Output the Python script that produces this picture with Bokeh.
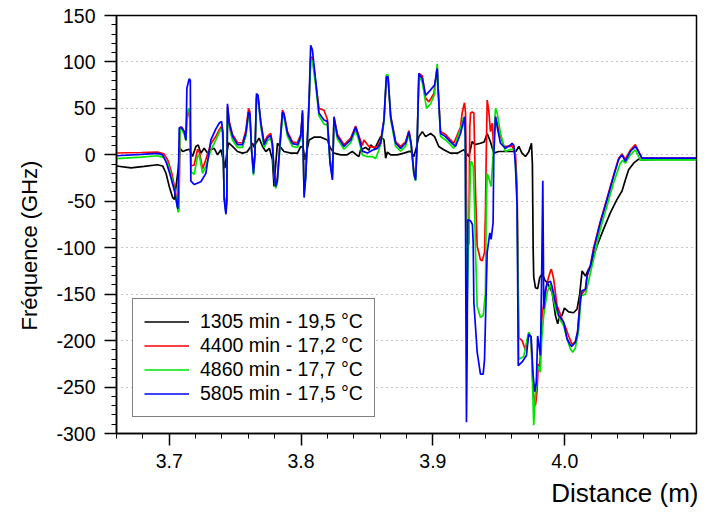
from bokeh.plotting import figure
from bokeh.models import Legend, LegendItem, Title, PrintfTickFormatter, SingleIntervalTicker, Range1d
from bokeh.embed import file_html
from bokeh.resources import INLINE

# ---------------- data (Distance in m, Frequency in GHz) ----------------
labels = ["1305 min - 19,5 °C", "4400 min - 17,2 °C", "4860 min - 17,7 °C", "5805 min - 17,5 °C"]
colors = ["#000000", "#ff0000", "#00e600", "#0000ff"]

x_1305 = [3.660, 3.671, 3.681, 3.691, 3.695, 3.6975, 3.7000, 3.7026, 3.7040, 3.7055, 3.7068, 3.7081,
          3.7102, 3.7127, 3.7152, 3.7177, 3.7202, 3.7220, 3.7240, 3.7265, 3.7290, 3.7316, 3.7341,
          3.7367, 3.7392, 3.7410, 3.7422, 3.7438, 3.7450, 3.7480, 3.7518, 3.7556, 3.7590, 3.7619,
          3.7632, 3.7645, 3.7657, 3.7682, 3.7708, 3.7733, 3.7760, 3.7783, 3.7795, 3.7805, 3.7821,
          3.7845, 3.7871, 3.7922, 3.7973, 3.7998, 3.8015, 3.8030, 3.8061, 3.8098, 3.8150, 3.8200,
          3.8220, 3.8250, 3.8301, 3.8350, 3.8389, 3.8420, 3.8439, 3.8452, 3.8490, 3.8515, 3.8528,
          3.8560, 3.8604, 3.8629, 3.8642, 3.8655, 3.8680, 3.8730, 3.8780, 3.8830, 3.8856, 3.8875,
          3.8894, 3.8920, 3.8945, 3.8983, 3.9013, 3.9045, 3.9083, 3.9134, 3.9185, 3.9235, 3.9261,
          3.9273, 3.9298, 3.9320, 3.9361, 3.9390, 3.9412, 3.9437, 3.9462, 3.9500, 3.9563, 3.9630,
          3.9652, 3.9675, 3.9702, 3.9727, 3.9748, 3.9755, 3.9761, 3.9765, 3.9778, 3.9795, 3.9811,
          3.9830, 3.9850, 3.9867, 3.9905, 3.9930, 3.9947, 3.9960, 3.9980, 3.9998, 4.0030, 4.0068,
          4.0094, 4.0114, 4.0132, 4.0157, 4.0182, 4.0195, 4.0245, 4.0295, 4.0346, 4.0397, 4.0435,
          4.0460, 4.0485, 4.0523, 4.0561, 4.0586, 4.0700, 4.1000]
y_1305 = [-12, -14, -12.5, -10.7, -12, -19.6, -34, -46, -48, -30, -16, 7,
          3.6, 5, 6, -1.8, 9, 10.7, 1.8, 7, 2, 5.4, 7,
          0, 5.4, -5.4, -14.3, 3, 13, 9, 3.6, 1.8, 3, 9,
          12.5, 8, 12.5, 18, 9, 3.6, 7, -5.4, -34, -15, 12.5,
          8, 3.6, 1.8, 1.8, 9, 8, -5.4, 16, 19, 19, 16,
          8, 1.8, 0, 0, 3.6, 0, -1.8, 5.4, 8, 5, 10.7,
          7, 19.6, 16, -3.6, 3, 0, 0, 1.8, 4, -1.8, 8,
          19.6, 25, 19.6, 23, 19.6, 9, 5.4, 1.8, 1.8, 5.4, 0,
          -1.8, 14.3, 11, 12.5, 14, 23, 14, 1.8, 3.6, 3.6, 3.6,
          9, 2, -1.8, 3, 12.5, -10, -102, -131, -143, -144, -132,
          -128, -135, -137.5, -148, -173, -182, -174, -173, -165, -169, -170,
          -166, -150, -125, -130.5, -123, -120, -98, -80, -62.5, -48, -39,
          -27, -16, -9, -4.6, -5.4, -4.8, -4.8]

x_4400 = [3.660, 3.679, 3.691, 3.696, 3.699, 3.702, 3.705, 3.7066, 3.7072, 3.7078, 3.7082, 3.7095,
          3.7114, 3.7127, 3.7134, 3.7150, 3.7158, 3.7164, 3.7189, 3.7215, 3.7230, 3.7253, 3.7278,
          3.7316, 3.7354, 3.7392, 3.7405, 3.7417, 3.7430, 3.7437, 3.7442, 3.7455, 3.7480, 3.7518,
          3.7556, 3.7581, 3.7602, 3.7612, 3.7625, 3.7639, 3.7650, 3.7662, 3.7674, 3.7695, 3.7720,
          3.7745, 3.7770, 3.7783, 3.7795, 3.7808, 3.7820, 3.7839, 3.7859, 3.7870, 3.7897, 3.7935,
          3.7973, 3.7998, 3.8011, 3.8023, 3.8035, 3.8061, 3.8073, 3.8086, 3.8111, 3.8136, 3.8174,
          3.8200, 3.8220, 3.8238, 3.8250, 3.8276, 3.8326, 3.8377, 3.8414, 3.8440, 3.8465, 3.8477,
          3.8515, 3.8553, 3.8579, 3.8604, 3.8629, 3.8647, 3.8660, 3.8680, 3.8718, 3.8755, 3.8793,
          3.8818, 3.8835, 3.8856, 3.8869, 3.8880, 3.8894, 3.8920, 3.8945, 3.8970, 3.9008, 3.9033,
          3.9040, 3.9058, 3.9096, 3.9134, 3.9159, 3.9210, 3.9222, 3.9240, 3.9248, 3.9253, 3.9258,
          3.9273, 3.9280, 3.9286, 3.9298, 3.9311, 3.9323, 3.9336, 3.9361, 3.9374, 3.9392, 3.9399,
          3.9405, 3.9412, 3.9424, 3.9437, 3.9450, 3.9460, 3.9470, 3.9475, 3.9500, 3.9538, 3.9589,
          3.9601, 3.9627, 3.9639, 3.9645, 3.9652, 3.9677, 3.9702, 3.9727, 3.9745, 3.9761, 3.9778,
          3.9790, 3.9800, 3.9811, 3.9829, 3.9846, 3.9867, 3.9892, 3.9899, 3.9917, 3.9942, 3.9967,
          3.9980, 4.0005, 4.0030, 4.0055, 4.0081, 4.0098, 4.0119, 4.0157, 4.0170, 4.0195, 4.0220,
          4.0270, 4.0321, 4.0371, 4.0409, 4.0435, 4.0460, 4.0498, 4.0536, 4.0550, 4.0586, 4.0700,
          4.1000]
y_4400 = [2, 2.5, 3, 1, -6, -20, -42, -58, -60, -20, 27, 30,
          25, 16, 40, 48, 35, -12, -11, 6, 2, -15, -5,
          12, 20, 30, 26, -45, -60, -45, 52, 36, 22, 13,
          13, 26, 50, 46, 5, -15, 0, 62, 60, 35, 13,
          20, 23, 12, -15, -30, -25, 11, 48, 45, 25, 14,
          13, 22, 45, -40, -22, 55, 105, 105, 78, 50, 48,
          38, -5, -22, 40, 22, 11, 18, 31, 20, 10, 16,
          9, 8, 9, 15, 38, 80, 82, 42, 14, 9, 14,
          26, 13, -18, -24, 10, 87.6, 85, 61, 57, 66, 95,
          72, 25, 22, 16, 12.5, 30, 45, 56, 45, -10, -95,
          -96, 30, 45, 46, 45, -37, -98, -113, -114, -105, -60,
          0, 59, 48, 25, 34, 10, 35, 41, 27, 9, 9,
          10, 0, -34, -110, -197, -200, -210, -193.5, -196, -255, -270,
          -255, -225, -228, -173, -155.5, -137.5, -125, -123, -134, -162.6, -171.5,
          -177, -185, -195, -204, -201, -190, -152, -145, -131, -119, -100,
          -72, -47, -22, -4, 1, -5, 5, 11, 7, -3.5, -3.5,
          -3.5]

x_4860 = [3.660, 3.679, 3.691, 3.696, 3.699, 3.702, 3.705, 3.7066, 3.7070, 3.7076, 3.7082, 3.7095,
          3.7114, 3.7127, 3.7134, 3.7150, 3.7158, 3.7164, 3.7189, 3.7215, 3.7227, 3.7253, 3.7278,
          3.7316, 3.7354, 3.7392, 3.7405, 3.7417, 3.7430, 3.7437, 3.7442, 3.7455, 3.7480, 3.7518,
          3.7556, 3.7581, 3.7602, 3.7612, 3.7625, 3.7639, 3.7650, 3.7662, 3.7674, 3.7695, 3.7720,
          3.7745, 3.7770, 3.7783, 3.7795, 3.7808, 3.7820, 3.7839, 3.7859, 3.7870, 3.7897, 3.7935,
          3.7973, 3.7998, 3.8011, 3.8023, 3.8035, 3.8061, 3.8073, 3.8086, 3.8111, 3.8136, 3.8174,
          3.8200, 3.8220, 3.8238, 3.8250, 3.8276, 3.8326, 3.8377, 3.8414, 3.8440, 3.8465, 3.8503,
          3.8541, 3.8566, 3.8590, 3.8610, 3.8629, 3.8647, 3.8660, 3.8680, 3.8718, 3.8755, 3.8793,
          3.8818, 3.8835, 3.8856, 3.8869, 3.8880, 3.8894, 3.8920, 3.8952, 3.8983, 3.9013, 3.9033,
          3.9040, 3.9058, 3.9096, 3.9134, 3.9159, 3.9210, 3.9235, 3.9245, 3.9250, 3.9255, 3.9261,
          3.9270, 3.9286, 3.9293, 3.9306, 3.9316, 3.9323, 3.9336, 3.9361, 3.9382, 3.9399, 3.9405,
          3.9412, 3.9424, 3.9442, 3.9457, 3.9475, 3.9488, 3.9513, 3.9551, 3.9589, 3.9620, 3.9639,
          3.9645, 3.9652, 3.9689, 3.9727, 3.9745, 3.9761, 3.9765, 3.9775, 3.9795, 3.9816, 3.9825,
          3.9841, 3.9867, 3.9892, 3.9930, 3.9967, 3.9992, 4.0018, 4.0043, 4.0061, 4.0081, 4.0106,
          4.0124, 4.0157, 4.0170, 4.0220, 4.0270, 4.0321, 4.0371, 4.0422, 4.0440, 4.0460, 4.0498,
          4.0536, 4.0574, 4.0700, 4.1000]
y_4860 = [-4, -2.5, -1, -3, -10, -25, -45, -60, -62, -20, 27, 28,
          22, 15, 45, 50, 35, -18, -21, -2, 0, -20, -12,
          5, 16, 28, 24, -45, -62, -48, 50, 30, 16, 8,
          8, 20, 42, 40, 3, -22, -2, 60, 62, 30, 8,
          15, 18, 8, -22, -36, -30, 6, 42, 41, 20, 9,
          8, 17, 44, -42, -25, 55, 100, 102, 75, 42, 33,
          32, -8, -25, 38, 17, 6, 13, 27, 15, 0, -2,
          -2, -4, 5, 15, 35, 86, 86, 38, 9, 4, 9,
          22, 10, -22, -28, 8, 85, 78, 50, 55, 65, 98,
          72, 20, 16, 11, 7, 28, 41, 20, -80, -156, -156,
          -100, -10, -7, -12.5, -55, -100, -163, -175, -173, -148.7, -60,
          -20, -25, -34, 0, 50, 45, 23, 3.6, 6, 6, -45,
          -130, -220, -217, -191, -196, -270, -291, -265, -227, -234, -200,
          -173, -148, -139, -166, -178, -184, -198, -209, -212.6, -208, -189,
          -152, -150, -143, -112, -80, -55, -30, -9, -6, -9, 0,
          5.4, -5.4, -5.4, -5.4]

x_5805 = [3.660, 3.679, 3.691, 3.695, 3.698, 3.701, 3.704, 3.706, 3.7066, 3.7070, 3.7076, 3.7089,
          3.7114, 3.7127, 3.7134, 3.7152, 3.7160, 3.7164, 3.7189, 3.7240, 3.7278, 3.7316, 3.7354,
          3.7379, 3.7397, 3.7407, 3.7417, 3.7430, 3.7437, 3.7442, 3.7455, 3.7480, 3.7518, 3.7556,
          3.7581, 3.7602, 3.7612, 3.7625, 3.7639, 3.7650, 3.7662, 3.7674, 3.7695, 3.7720, 3.7745,
          3.7770, 3.7783, 3.7795, 3.7808, 3.7820, 3.7839, 3.7859, 3.7870, 3.7897, 3.7935, 3.7973,
          3.7998, 3.8011, 3.8023, 3.8035, 3.8061, 3.8073, 3.8086, 3.8111, 3.8136, 3.8174, 3.8200,
          3.8220, 3.8238, 3.8250, 3.8276, 3.8326, 3.8377, 3.8414, 3.8440, 3.8465, 3.8503, 3.8541,
          3.8579, 3.8604, 3.8629, 3.8647, 3.8660, 3.8680, 3.8718, 3.8755, 3.8793, 3.8818, 3.8835,
          3.8856, 3.8869, 3.8880, 3.8894, 3.8920, 3.8945, 3.8983, 3.9013, 3.9033, 3.9040, 3.9058,
          3.9096, 3.9134, 3.9172, 3.9210, 3.9235, 3.9242, 3.9246, 3.9250, 3.9255, 3.9260, 3.9265,
          3.9286, 3.9300, 3.9306, 3.9311, 3.9336, 3.9361, 3.9382, 3.9392, 3.9412, 3.9432, 3.9442,
          3.9457, 3.9462, 3.9475, 3.9488, 3.9513, 3.9551, 3.9589, 3.9601, 3.9615, 3.9627, 3.9639,
          3.9644, 3.9648, 3.9677, 3.9710, 3.9727, 3.9745, 3.9761, 3.9773, 3.9785, 3.9795, 3.9805,
          3.9816, 3.9826, 3.9834, 3.9838, 3.9841, 3.9855, 3.9867, 3.9892, 3.9905, 3.9930, 3.9955,
          3.9992, 4.0018, 4.0043, 4.0055, 4.0081, 4.0098, 4.0119, 4.0132, 4.0157, 4.0170, 4.0195,
          4.0220, 4.0270, 4.0321, 4.0371, 4.0409, 4.0435, 4.0460, 4.0498, 4.0536, 4.0550, 4.0586,
          4.0700, 4.0850, 4.1000]
y_5805 = [-1, 0.5, 1.5, 0, -9, -23, -39, -55, -58, -20, 29, 30,
          25, 16, 72, 82, 80, -28, -32, -29, -20, 16, 28,
          34, 36, 24, -48, -64, -50, 55, 34, 20, 11, 11,
          23, 46, 44, 5, -20, 0, 66, 64, 34, 11, 18,
          21, 11, -20, -34, -28, 9, 46, 44, 23, 12, 11,
          20, 48, -46, -25, 59, 118, 113, 80, 45, 37.5, 36,
          -9, -27, 41, 20, 9, 16, 30, 18, 4, 2, 5,
          7, 12.5, 37.5, 84, 84, 41, 12.5, 7, 12.5, 25, 12,
          -20, -27, 10, 87.6, 82, 64, 70, 75, 93, 70, 23,
          19.6, 14, 9, 23, 37.5, 41, 20, -150, -288, -212, -70,
          -71, -75, -95, -159, -212, -236, -236, -220, -105, -84, -91,
          -73, -2, 41, 30, 12.5, 7, 10.7, 12.5, 10, -12.5, -55,
          -148, -227, -223, -216, -193, -196, -238, -255, -245, -195, -205,
          -216, -123, -28, -100, -166, -145, -138, -136, -142, -159, -173,
          -180, -198, -205, -206, -202, -191, -157, -146, -145, -130, -120,
          -102, -73, -48, -23, -5, 0, -7, 3.6, 9, 6, -3.6,
          -3.6, -3.5, -3.6]

series_x = [x_1305, x_4400, x_4860, x_5805]
series_y = [y_1305, y_4400, y_4860, y_5805]

# ---------------- figure ----------------
FONT = "Liberation Sans"
p = figure(width=702, height=515,
           x_range=Range1d(3.66, 4.10), y_range=Range1d(-300, 150),
           output_backend="svg", toolbar_location=None,
           min_border_left=116, min_border_right=6, min_border_top=15, min_border_bottom=82)
p.background_fill_color = "white"
p.border_fill_color = "white"
p.outline_line_color = "black"
p.outline_line_width = 1.5

leg_items = []
for xs, ys, c, lab in zip(series_x, series_y, colors, labels):
    r = p.line(xs, ys, line_color=c, line_width=1.7)
    leg_items.append(LegendItem(label=lab, renderers=[r]))

# axes
p.xaxis.ticker = SingleIntervalTicker(interval=0.1, num_minor_ticks=5)
p.yaxis.ticker = SingleIntervalTicker(interval=50, num_minor_ticks=5)
p.xaxis.formatter = PrintfTickFormatter(format="%.1f")
p.yaxis.formatter = PrintfTickFormatter(format="%d")
for ax in (p.xaxis[0], p.yaxis[0]):
    ax.axis_line_color = "black"
    ax.axis_line_width = 1.5
    ax.major_tick_line_color = "black"
    ax.major_tick_line_width = 1.5
    ax.minor_tick_line_color = "black"
    ax.minor_tick_line_width = 1
    ax.major_tick_in = 0
    ax.major_tick_out = 12
    ax.minor_tick_in = 0
    ax.minor_tick_out = 5
    ax.major_label_text_font = FONT
    ax.major_label_text_font_size = "19.5px"
    ax.major_label_text_color = "black"
p.yaxis.major_label_standoff = 9
p.xaxis.major_label_standoff = 8

p.add_layout(Title(text="Fréquence (GHz)", align="left", offset=103, standoff=24,
                   text_font=FONT, text_font_size="22px",
                   text_font_style="normal", text_color="black"), "left")
p.add_layout(Title(text="Distance (m)", align="right", offset=-2, standoff=10, text_font=FONT,
                   text_font_size="26px", text_font_style="normal", text_color="black"), "below")

# grid
p.xgrid.visible = False
p.ygrid.grid_line_color = "#8c8c8c"
p.ygrid.grid_line_dash = "1 4"
p.ygrid.grid_line_width = 1

legend = Legend(items=leg_items, location=(16, 16),
                border_line_color="black", border_line_width=1.2,
                background_fill_color="white", background_fill_alpha=1,
                padding=11, spacing=1, margin=0,
                label_height=21, glyph_height=21, glyph_width=45, label_standoff=11,
                label_text_font=FONT, label_text_font_size="19.5px", label_text_color="black")
p.add_layout(legend)

open("out.html", "w").write(file_html(p, INLINE))
